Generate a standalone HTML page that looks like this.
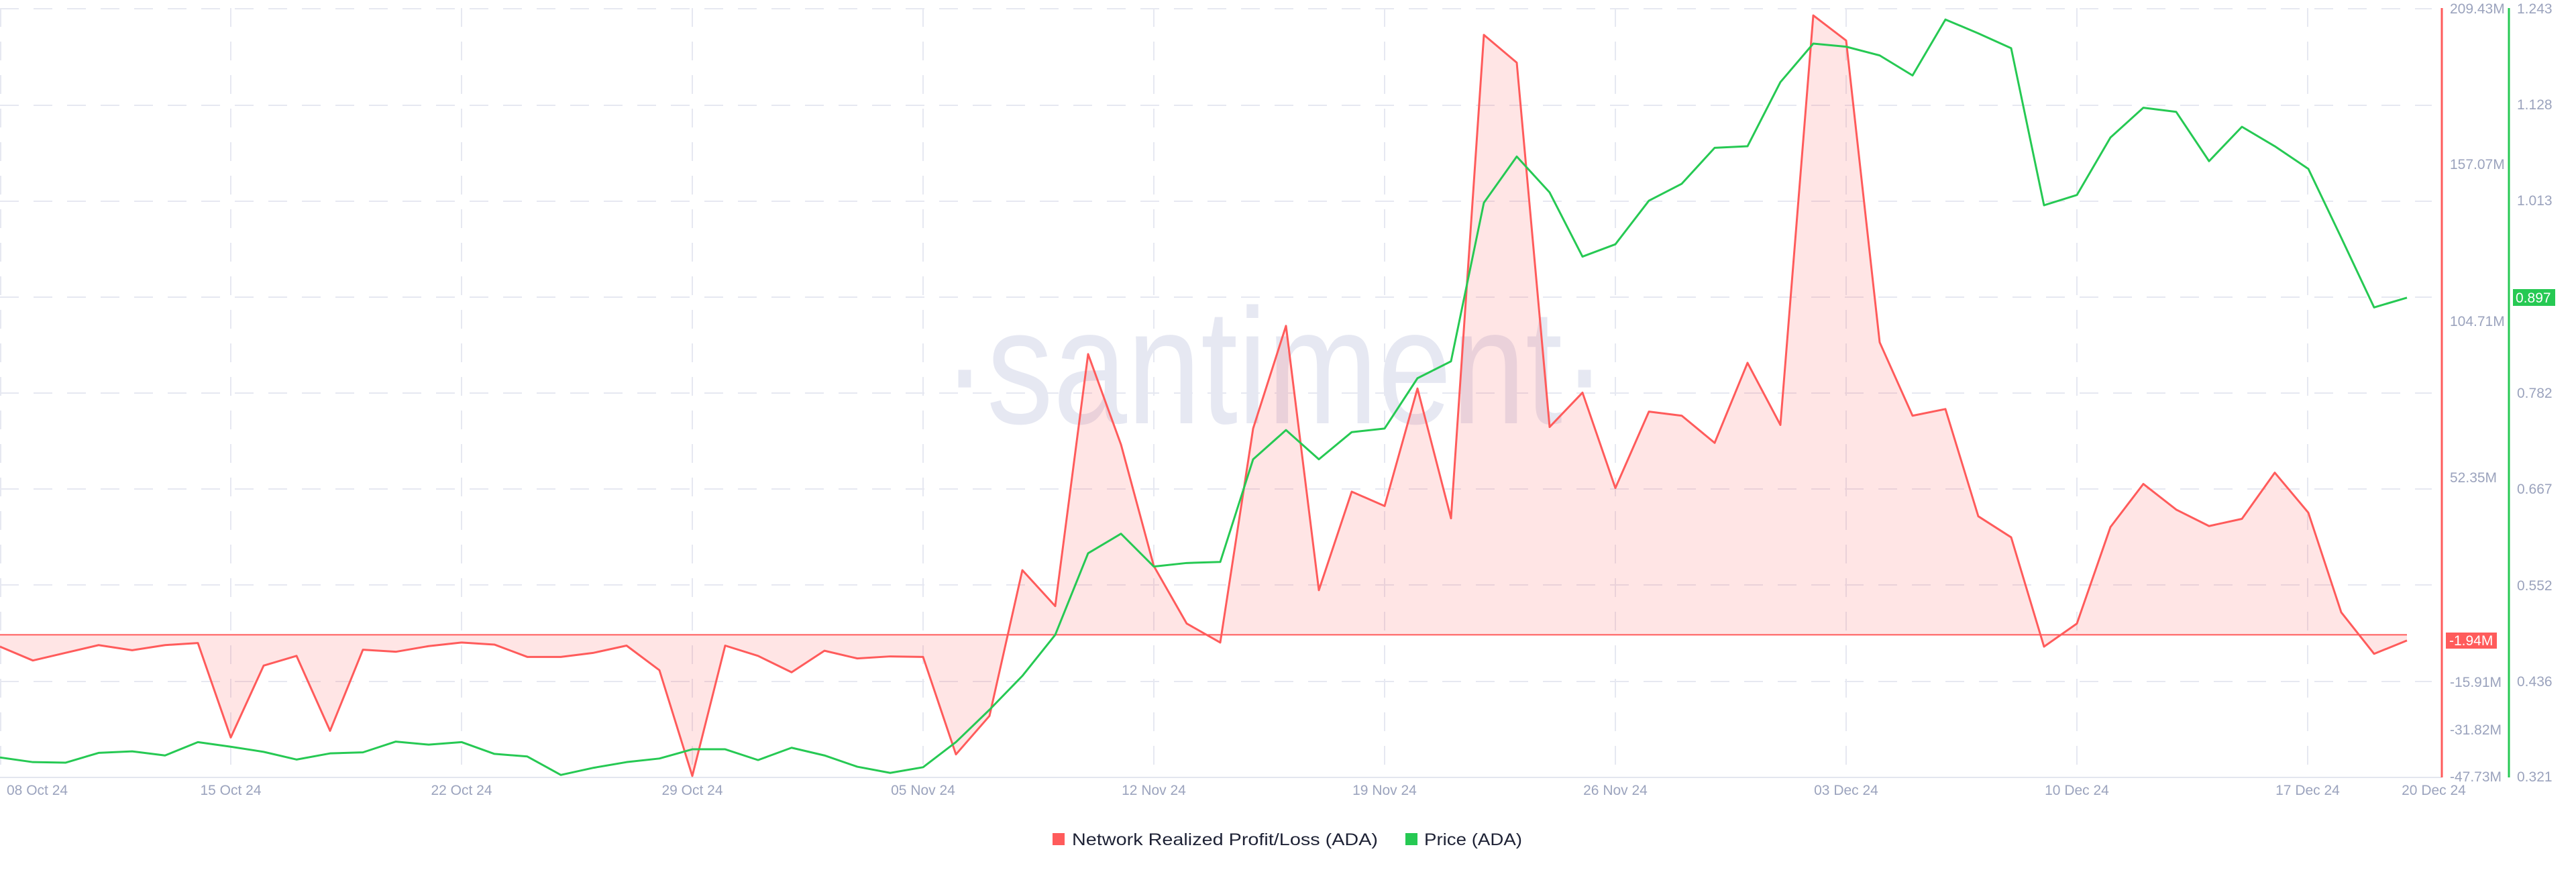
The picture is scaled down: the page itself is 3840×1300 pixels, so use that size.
<!DOCTYPE html>
<html><head><meta charset="utf-8"><style>
html,body{margin:0;padding:0;background:#fff;}
svg{display:block;font-family:"Liberation Sans",sans-serif;}
.ax{fill:#9ba3bd;font-size:21px;}
</style></head><body>
<svg width="3840" height="1300" viewBox="0 0 3840 1300" xmlns="http://www.w3.org/2000/svg">
<rect width="3840" height="1300" fill="#fff"/>
<g stroke="#e6e8f1" stroke-width="2" stroke-dasharray="28,22">
<line x1="0" y1="13" x2="3625" y2="13"/><line x1="0" y1="157" x2="3625" y2="157"/><line x1="0" y1="300" x2="3625" y2="300"/><line x1="0" y1="443" x2="3625" y2="443"/><line x1="0" y1="586" x2="3625" y2="586"/><line x1="0" y1="729" x2="3625" y2="729"/><line x1="0" y1="872" x2="3625" y2="872"/><line x1="0" y1="1016" x2="3625" y2="1016"/>
<line x1="1" y1="12" x2="1" y2="1158"/><line x1="344" y1="12" x2="344" y2="1158"/><line x1="688" y1="12" x2="688" y2="1158"/><line x1="1032" y1="12" x2="1032" y2="1158"/><line x1="1376" y1="12" x2="1376" y2="1158"/><line x1="1720" y1="12" x2="1720" y2="1158"/><line x1="2064" y1="12" x2="2064" y2="1158"/><line x1="2408" y1="12" x2="2408" y2="1158"/><line x1="2752" y1="12" x2="2752" y2="1158"/><line x1="3096" y1="12" x2="3096" y2="1158"/><line x1="3440" y1="12" x2="3440" y2="1158"/>
</g>
<line x1="0" y1="1159" x2="3640" y2="1159" stroke="#e3e6ef" stroke-width="2"/>
<text x="1405" y="631" font-size="245" fill="#e6e8f2" textLength="990" lengthAdjust="spacingAndGlyphs">·santiment·</text>
<g transform="scale(1,0.7651)">
<polygon fill="#ff5b5b" fill-opacity="0.16" points="0,1237 0,1260 49,1287 98,1272 147,1257 197,1267 246,1257 295,1253 344,1437 393,1297 442,1278 492,1424 541,1266 590,1270 639,1259 688,1252 737,1256 786,1280 836,1280 885,1272 934,1258 983,1306 1032,1512 1081,1258 1130,1278 1180,1310 1229,1268 1278,1283 1327,1279 1376,1280 1425,1470 1475,1395 1524,1111 1573,1181 1622,690 1671,866 1720,1103 1769,1215 1819,1252 1868,835 1917,635 1966,1150 2015,958 2064,986 2113,757 2163,1010 2212,68 2261,122 2310,832 2359,765 2408,951 2458,802 2507,810 2556,863 2605,707 2654,828 2703,30 2752,79 2802,667 2851,810 2900,797 2949,1006 2998,1047 3047,1260 3096,1215 3146,1027 3195,943 3244,993 3293,1025 3342,1011 3391,921 3441,999 3490,1193 3539,1274 3588,1248 3588,1237"/>
<line x1="0" y1="1237" x2="3588" y2="1237" stroke="#ff5b5b" stroke-width="2" vector-effect="non-scaling-stroke"/>
<polyline fill="none" stroke="#ff5b5b" stroke-width="3" stroke-linejoin="round" vector-effect="non-scaling-stroke" points="0,1260 49,1287 98,1272 147,1257 197,1267 246,1257 295,1253 344,1437 393,1297 442,1278 492,1424 541,1266 590,1270 639,1259 688,1252 737,1256 786,1280 836,1280 885,1272 934,1258 983,1306 1032,1512 1081,1258 1130,1278 1180,1310 1229,1268 1278,1283 1327,1279 1376,1280 1425,1470 1475,1395 1524,1111 1573,1181 1622,690 1671,866 1720,1103 1769,1215 1819,1252 1868,835 1917,635 1966,1150 2015,958 2064,986 2113,757 2163,1010 2212,68 2261,122 2310,832 2359,765 2408,951 2458,802 2507,810 2556,863 2605,707 2654,828 2703,30 2752,79 2802,667 2851,810 2900,797 2949,1006 2998,1047 3047,1260 3096,1215 3146,1027 3195,943 3244,993 3293,1025 3342,1011 3391,921 3441,999 3490,1193 3539,1274 3588,1248"/>
<polyline fill="none" stroke="#26c953" stroke-width="3" stroke-linejoin="round" vector-effect="non-scaling-stroke" points="0,1476 49,1485 98,1486 147,1467 197,1464 246,1472 295,1446 344,1455 393,1465 442,1480 492,1468 541,1466 590,1445 639,1451 688,1446 737,1469 786,1474 836,1510 885,1496 934,1485 983,1478 1032,1460 1081,1460 1130,1481 1180,1457 1229,1472 1278,1494 1327,1506 1376,1495 1425,1446 1475,1383 1524,1317 1573,1237 1622,1078 1671,1040 1720,1104 1769,1097 1819,1095 1868,895 1917,838 1966,895 2015,842 2064,835 2113,737 2163,704 2212,395 2261,305 2310,375 2359,500 2408,476 2458,391 2507,358 2556,288 2605,285 2654,160 2703,85 2752,91 2802,108 2851,147 2900,38 2949,65 2998,94 3047,400 3096,380 3146,268 3195,210 3244,218 3293,314 3342,247 3391,285 3441,329 3490,463 3539,599 3588,580"/>
</g>
<line x1="3640" y1="12" x2="3640" y2="1159" stroke="#ff5b5b" stroke-width="3"/>
<line x1="3740" y1="12" x2="3740" y2="1159" stroke="#26c953" stroke-width="3"/>
<g class="ax">
<text x="3652" y="20">209.43M</text><text x="3652" y="252">157.07M</text><text x="3652" y="486">104.71M</text><text x="3652" y="719">52.35M</text><text x="3652" y="1024">-15.91M</text><text x="3652" y="1095">-31.82M</text><text x="3652" y="1165">-47.73M</text>
<text x="3752" y="20">1.243</text><text x="3752" y="163">1.128</text><text x="3752" y="306">1.013</text><text x="3752" y="593">0.782</text><text x="3752" y="736">0.667</text><text x="3752" y="880">0.552</text><text x="3752" y="1023">0.436</text><text x="3752" y="1165">0.321</text>
<text x="10" y="1185">08 Oct 24</text>
<g text-anchor="middle"><text x="344" y="1185">15 Oct 24</text><text x="688" y="1185">22 Oct 24</text><text x="1032" y="1185">29 Oct 24</text><text x="1376" y="1185">05 Nov 24</text><text x="1720" y="1185">12 Nov 24</text><text x="2064" y="1185">19 Nov 24</text><text x="2408" y="1185">26 Nov 24</text><text x="2752" y="1185">03 Dec 24</text><text x="3096" y="1185">10 Dec 24</text><text x="3440" y="1185">17 Dec 24</text><text x="3628" y="1185">20 Dec 24</text></g>
</g>
<rect x="3646" y="943" width="76" height="24" fill="#ff5b5b"/>
<text x="3651" y="962" font-size="21" fill="#fff">-1.94M</text>
<rect x="3746" y="431" width="63" height="25" fill="#26c953"/>
<text x="3750" y="451" font-size="21" fill="#fff">0.897</text>
<rect x="1569" y="1242" width="18" height="18" fill="#ff5b5b"/>
<text x="1598" y="1260" font-size="25" fill="#1e2235" textLength="456" lengthAdjust="spacingAndGlyphs">Network Realized Profit/Loss (ADA)</text>
<rect x="2095" y="1242" width="18" height="18" fill="#26c953"/>
<text x="2123" y="1260" font-size="25" fill="#1e2235" textLength="146" lengthAdjust="spacingAndGlyphs">Price (ADA)</text>
</svg>
</body></html>
